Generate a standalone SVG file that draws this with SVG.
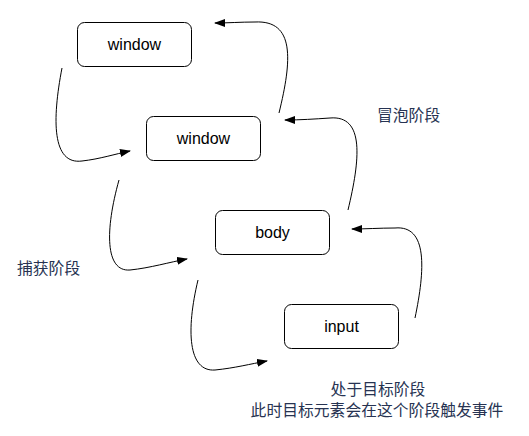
<svg xmlns="http://www.w3.org/2000/svg" width="529" height="436" viewBox="0 0 529 436">
<style>
.box{fill:#fff;stroke:#000;stroke-width:1}
.lbl{font-family:"Liberation Sans",Arial,sans-serif;font-size:16px;fill:#000;text-anchor:middle}
.cn{font-family:"Noto Sans CJK SC","Liberation Sans",sans-serif;font-size:15.8px;fill:#273352}
.edge{fill:none;stroke:#000;stroke-width:1;marker-end:url(#arr)}
</style>
<defs>
<marker id="arr" markerUnits="userSpaceOnUse" markerWidth="11" markerHeight="8" refX="10" refY="4" orient="auto">
<path d="M0,0 L11,4 L0,8 z" fill="#000"/>
</marker>
</defs>
<rect width="529" height="436" fill="#fff"/>
<g id="connectors">
<path class="edge" d="M62,68 C52,120 52,165 82,161 C100,159 115,154 130,151"/>
<path class="edge" d="M119,180 C105,230 105,272 130,270 C150,268 170,262 187,259"/>
<path class="edge" d="M198,280 C186,330 188,372 215,370 C235,368 250,364 267,361"/>
<path class="edge" d="M415,318 C425,270 428,225 395,228 C380,228 365,229 352,229"/>
<path class="edge" d="M348,210 C360,160 365,115 330,118 C315,119 300,120 285,120"/>
<path class="edge" d="M279,113 C292,60 295,20 255,22 C240,22 228,23 215,23"/>
</g>
<g id="window1"><rect class="box" x="77.5" y="22.5" width="114" height="44" rx="7"/><text class="lbl" x="134.5" y="50">window</text></g>
<g id="window2"><rect class="box" x="146.5" y="116.5" width="114" height="44" rx="7"/><text class="lbl" x="203.5" y="144">window</text></g>
<g id="body"><rect class="box" x="215.5" y="210.5" width="114" height="44" rx="7"/><text class="lbl" x="272.5" y="238">body</text></g>
<g id="input"><rect class="box" x="284.5" y="304.5" width="114" height="44" rx="7"/><text class="lbl" x="341.5" y="332">input</text></g>
<g id="labels">
<text class="cn" x="377" y="121">冒泡阶段</text>
<text class="cn" x="17" y="274">捕获阶段</text>
<text class="cn" x="378" y="395" text-anchor="middle">处于目标阶段</text>
<text class="cn" x="377" y="416" text-anchor="middle">此时目标元素会在这个阶段触发事件</text>
</g>
</svg>
